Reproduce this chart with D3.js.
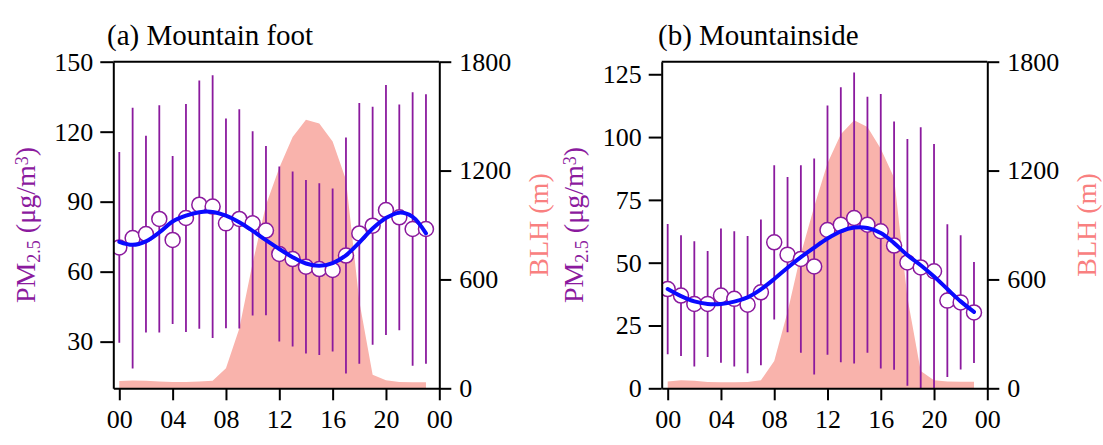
<!DOCTYPE html>
<html>
<head>
<meta charset="utf-8">
<script src="https://cdn.jsdelivr.net/npm/d3@7"></script>
<style>
    body { margin: 0; background: #fff; }
    text { font-family: "Liberation Serif", "Times New Roman", serif; }
</style>
</head>
<body>
<svg id="chart" width="1103" height="445"></svg>
<script>
(function () {
    'use strict';

    // hour of day
    var hours = [0, 1, 2, 3, 4, 5, 6, 7, 8, 9, 10, 11, 12, 13, 14, 15, 16, 17, 18, 19, 20, 21, 22, 23];
    var hourTicks = [0, 4, 8, 12, 16, 20, 24];

    // (a) mountain foot
    var footPm = [70.4, 74.4, 76.1, 82.6, 73.6, 83.0, 88.7, 87.9, 80.7, 82.6, 80.7, 77.6,
                  67.6, 65.4, 62.1, 61.1, 60.7, 66.9, 76.4, 79.7, 86.4, 83.3, 78.3, 78.3];
    var footSd = [40.9, 55.9, 42.2, 48.7, 36.0, 48.9, 53.2, 56.3, 45.0, 47.0, 39.5, 36.3,
                  37.5, 37.5, 37.2, 36.8, 34.9, 50.6, 55.9, 51.0, 53.6, 48.4, 58.6, 57.8];
    var footFit = [72.8, 71.5, 73.0, 76.8, 81.5, 84.0, 85.5, 85.6, 84.0, 81.2, 77.5, 73.5,
                   69.7, 66.2, 63.5, 62.5, 63.7, 67.0, 72.5, 78.5, 83.0, 85.3, 83.5, 76.4];
    var footBlh = [40, 43, 42, 37, 35, 35, 37, 42, 110, 330, 690, 1010,
                   1215, 1385, 1480, 1460, 1360, 1150, 480, 75, 45, 35, 34, 34];
    var footTicks = [30, 60, 90, 120, 150];

    // (b) mountainside
    var sidePm = [39.5, 36.9, 33.6, 33.6, 36.9, 35.6, 33.3, 38.2, 58.1, 53.2, 51.5, 48.5,
                  63.0, 65.1, 67.8, 65.1, 62.5, 56.8, 50.1, 48.1, 46.6, 34.9, 34.2, 30.2];
    var sideSd = [25.9, 24.0, 24.9, 21.1, 26.7, 26.9, 27.3, 29.0, 30.7, 30.9, 37.3, 43.0,
                  49.6, 54.7, 57.9, 50.9, 54.6, 49.4, 49.1, 55.8, 50.6, 30.4, 26.7, 20.1];
    var sideFit = [39.5, 36.7, 34.6, 33.6, 33.6, 34.5, 36.2, 39.4, 43.5, 48.0, 52.2, 56.0,
                   59.6, 62.5, 64.0, 63.8, 61.8, 57.8, 53.0, 49.0, 44.5, 39.5, 34.6, 30.4];
    var sideBlh = [37, 44, 42, 35, 33, 33, 35, 44, 150, 420, 740, 1000,
                   1240, 1400, 1478, 1440, 1320, 1160, 500, 95, 45, 38, 36, 36];
    var sideTicks = [0, 25, 50, 75, 100, 125];

    var blhTicks = [0, 600, 1200, 1800];

    var pmColor = '#8b1a9e';
    var blhColor = '#f98080';
    var areaFill = '#f9b3ac';
    var fitColor = '#0a0aff';

    var top = 61.7, bottom = 388.3;

    var panels = [
        { id: 'a', title: '(a) Mountain foot', left: 113.3, right: 439.3, titleX: 107,
          pm: footPm, sd: footSd, fit: footFit, blh: footBlh,
          yDomain: [10, 150], yTicks: footTicks, yLabelX: 25, blhLabelX: 538 },
        { id: 'b', title: '(b) Mountainside', left: 661.7, right: 987.3, titleX: 658,
          pm: sidePm, sd: sideSd, fit: sideFit, blh: sideBlh,
          yDomain: [0, 130], yTicks: sideTicks, yLabelX: 573.5, blhLabelX: 1086.5 }
    ];

    var svg = d3.select('#chart');

    panels.forEach(drawPanel);

    function drawPanel(p) {
        var x = d3.scaleLinear().domain([-0.45, 24]).range([p.left, p.right]);
        var y = d3.scaleLinear().domain(p.yDomain).range([bottom, top]);
        var yR = d3.scaleLinear().domain([0, 1800]).range([bottom, top]);

        var g = svg.append('g');

        g.append('clipPath').attr('id', 'clip-' + p.id)
            .append('rect')
            .attr('x', p.left).attr('y', top)
            .attr('width', p.right - p.left).attr('height', bottom - top);

        var plot = g.append('g').attr('clip-path', 'url(#clip-' + p.id + ')');

        // boundary layer height area
        var area = d3.area()
            .x(function (d, i) { return x(hours[i]); })
            .y0(yR(0))
            .y1(function (d) { return yR(d); });
        plot.append('path')
            .datum(p.blh)
            .attr('d', area)
            .attr('fill', areaFill);

        // error bars (mean +/- sd)
        plot.selectAll('line.err')
            .data(p.pm)
            .enter().append('line')
            .attr('class', 'err')
            .attr('x1', function (d, i) { return x(hours[i]); })
            .attr('x2', function (d, i) { return x(hours[i]); })
            .attr('y1', function (d, i) { return y(d - p.sd[i]); })
            .attr('y2', function (d, i) { return y(d + p.sd[i]); })
            .attr('stroke', pmColor)
            .attr('stroke-width', 1.8);

        plot.selectAll('circle')
            .data(p.pm)
            .enter().append('circle')
            .attr('cx', function (d, i) { return x(hours[i]); })
            .attr('cy', function (d) { return y(d); })
            .attr('r', 7.5)
            .attr('fill', '#fff')
            .attr('stroke', pmColor)
            .attr('stroke-width', 1.5);

        var line = d3.line()
            .x(function (d, i) { return x(hours[i]); })
            .y(function (d) { return y(d); })
            .curve(d3.curveCatmullRom);
        plot.append('path')
            .datum(p.fit)
            .attr('d', line)
            .attr('fill', 'none')
            .attr('stroke', fitColor)
            .attr('stroke-width', 4)
            .attr('stroke-linecap', 'round');

        // frame top
        g.append('line')
            .attr('x1', p.left).attr('x2', p.right)
            .attr('y1', top).attr('y2', top)
            .attr('stroke', '#000').attr('stroke-width', 2);

        var axL = g.append('g')
            .attr('transform', 'translate(' + p.left + ',0)')
            .call(d3.axisLeft(y).tickValues(p.yTicks).tickSize(13).tickSizeOuter(0).tickPadding(7)
                .tickFormat(d3.format('d')));
        var axR = g.append('g')
            .attr('transform', 'translate(' + p.right + ',0)')
            .call(d3.axisRight(yR).tickValues(blhTicks).tickSize(12).tickSizeOuter(0).tickPadding(8)
                .tickFormat(d3.format('d')));
        var axB = g.append('g')
            .attr('transform', 'translate(0,' + bottom + ')')
            .call(d3.axisBottom(x).tickValues(hourTicks).tickSize(12).tickSizeOuter(0).tickPadding(9)
                .tickFormat(function (d) { return d3.format('02d')(d % 24); }));

        [axL, axR, axB].forEach(function (ax) {
            ax.selectAll('path, line').attr('stroke', '#000').attr('stroke-width', 2);
            ax.selectAll('text')
                .attr('fill', '#000')
                .style('font-size', '26px')
                .style('font-family', '"Liberation Serif", "Times New Roman", serif');
        });

        // panel title
        g.append('text')
            .attr('x', p.titleX).attr('y', 45)
            .style('font-size', '29px')
            .attr('fill', '#000')
            .text(p.title);

        // left axis title
        var yl = g.append('text')
            .attr('transform', 'translate(' + p.yLabelX + ',' + ((top + bottom) / 2) + ') rotate(-90)')
            .attr('text-anchor', 'middle')
            .attr('dy', '0.35em')
            .attr('fill', pmColor)
            .style('font-size', '28px');
        yl.append('tspan').text('PM');
        yl.append('tspan').attr('baseline-shift', '-28%').style('font-size', '18px').text('2.5');
        yl.append('tspan').text(' (\u03bcg/m');
        yl.append('tspan').attr('baseline-shift', '38%').style('font-size', '18px').text('3');
        yl.append('tspan').text(')');

        // right axis title
        g.append('text')
            .attr('transform', 'translate(' + p.blhLabelX + ',' + ((top + bottom) / 2) + ') rotate(-90)')
            .attr('text-anchor', 'middle')
            .attr('dy', '0.35em')
            .attr('fill', blhColor)
            .style('font-size', '28px')
            .text('BLH (m)');
    }
})();
</script>
</body>
</html>
